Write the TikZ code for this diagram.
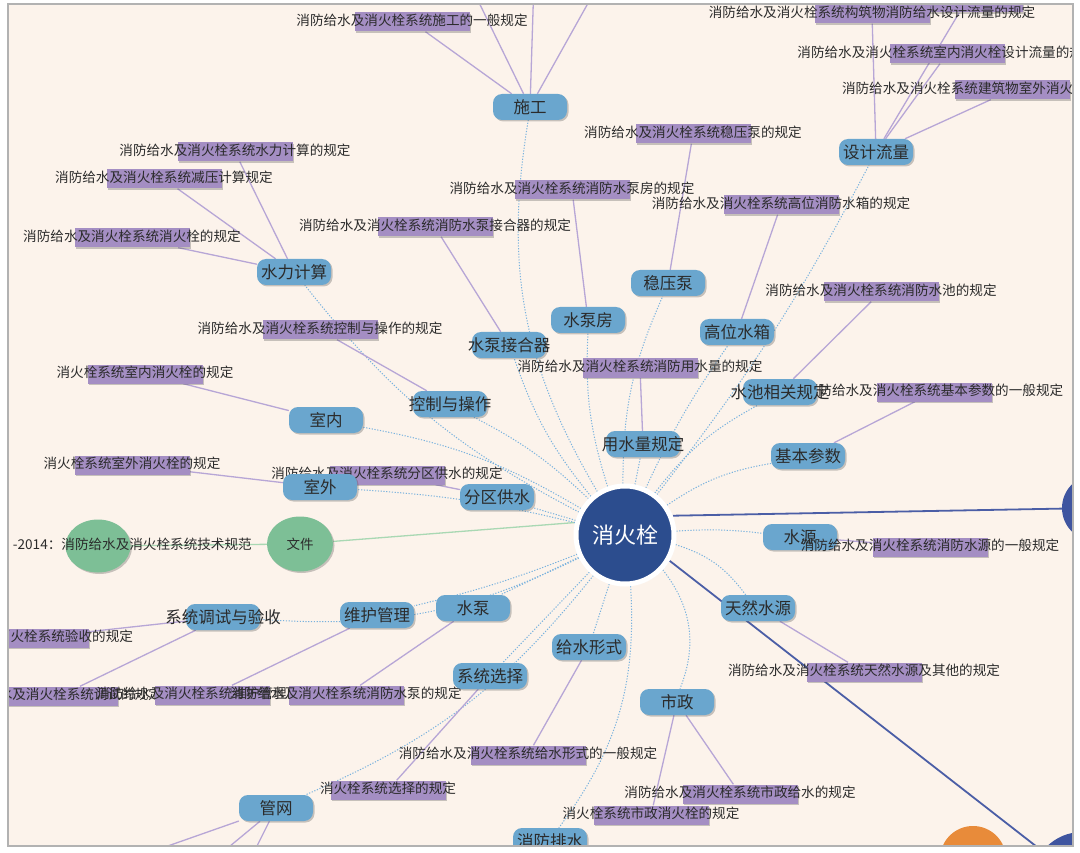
\documentclass[tikz,border=0pt]{standalone}
\usepackage{fontspec}
\newfontfamily\cjk{Noto Sans CJK SC}
\usetikzlibrary{shadows,shapes.geometric}
\pgfdeclarelayer{back}
\pgfdeclarelayer{conn}
\pgfsetlayers{back,conn,main}
\definecolor{bgc}{HTML}{FCF3EB}
\definecolor{nb}{HTML}{6AA6CE}
\definecolor{lp}{HTML}{A48EC3}
\definecolor{plc}{HTML}{B7A6D6}
\definecolor{dlc}{HTML}{79B2DE}
\definecolor{hubc}{HTML}{2C4D8E}
\definecolor{grn}{HTML}{7DBF96}
\definecolor{glc}{HTML}{A9D8B3}
\definecolor{dkc}{HTML}{4B5EA6}
\definecolor{rcc}{HTML}{3F55A0}
\definecolor{orc}{HTML}{E88B3A}
\definecolor{tx}{HTML}{2B2B2B}
\tikzset{
  shd/.style={drop shadow={shadow xshift=1.5pt, shadow yshift=-1.5pt, opacity=0.3, fill=black!70}},
  bn/.style={rounded corners=9pt, fill=nb, minimum width=74pt, minimum height=26pt, inner sep=0pt,
    font=\cjk\fontsize{16.5}{17}\selectfont, text=tx, shd},
  lb/.style={fill=lp, minimum width=115pt, minimum height=19pt, inner sep=0pt, shd},
  lt/.style={font=\cjk\fontsize{13.6}{14}\selectfont, text=tx, inner sep=0pt, yshift=2pt},
  hubs/.style={circle, fill=hubc, draw=white, line width=5pt, minimum size=98pt, inner sep=0pt,
    font=\cjk\fontsize{22}{22}\selectfont, text=white, shd},
  ell/.style={ellipse, fill=grn, inner sep=0pt, font=\cjk\fontsize{13.5}{14}\selectfont, text=tx, shd},
  dl/.style={dlc, line width=1pt, dash pattern=on 1.2pt off 1.6pt},
  pl/.style={plc, line width=1.3pt},
  gl/.style={glc, line width=1.3pt},
  dk/.style={dkc, line width=1.8pt},
}
\newcommand\lab[4]{\node[lb,label={[lt]center:{#4}}] (#1) at (#2,{#3+2}) {};}
\newcommand\bnd[4]{\node[bn] (#1) at (#2,#3) {\makebox[0pt]{#4}};}
\begin{document}
\begin{tikzpicture}[x=1pt,y=-1pt]
\useasboundingbox (0,0) rectangle (1080,853);
\begin{pgfonlayer}{back}
\fill[white] (0,0) rectangle (1080,853);
\fill[bgc] (8,4) rectangle (1073,846);
\end{pgfonlayer}

\begin{scope}
\clip (8,4) rectangle (1073,846);
% off-frame ends
\coordinate (c1) at (468,-20);
\coordinate (c2) at (534,-20);
\coordinate (c3) at (601,-20);
\coordinate (g1) at (71,880);
\coordinate (g2) at (189,880);
\coordinate (g3) at (240,880);
% labels
\node[lb] (L2b) at (965,3) {};
\lab{L1}{412}{20}{消防给水及消火栓系统施工的一般规定}
\lab{L2}{872}{12}{消防给水及消火栓系统构筑物消防给水设计流量的规定}
\lab{L3}{947}{52}{消防给水及消火栓系统室内消火栓设计流量的规定}
\lab{L4}{1012}{88}{消防给水及消火栓系统建筑物室外消火栓设计流量的规定}
\lab{L5}{235}{150}{消防给水及消火栓系统水力计算的规定}
\lab{L6}{164}{177}{消防给水及消火栓系统减压计算规定}
\lab{L7}{132}{236}{消防给水及消火栓系统消火栓的规定}
\lab{L8}{693}{132}{消防给水及消火栓系统稳压泵的规定}
\lab{L9}{572}{188}{消防给水及消火栓系统消防水泵房的规定}
\lab{L10}{781}{203}{消防给水及消火栓系统高位消防水箱的规定}
\lab{L11}{435}{225}{消防给水及消火栓系统消防水泵接合器的规定}
\lab{L12}{881}{290}{消防给水及消火栓系统消防水池的规定}
\lab{L13}{320}{328}{消防给水及消火栓系统控制与操作的规定}
\lab{L14}{640}{366}{消防给水及消火栓系统消防用水量的规定}
\lab{L15}{145}{372}{消火栓系统室内消火栓的规定}
\lab{L16}{934}{390}{消防给水及消火栓系统基本参数的一般规定}
\lab{L17}{132}{463}{消火栓系统室外消火栓的规定}
\lab{L18}{387}{473}{消防给水及消火栓系统分区供水的规定}
\lab{L20}{864}{670}{消防给水及消火栓系统天然水源及其他的规定}
\lab{L21}{31}{636}{消防给水及消火栓系统验收的规定}
\lab{L22}{60}{694}{消防给水及消火栓系统调试的规定}
\lab{L23}{212}{693}{消防给水及消火栓系统维护管理的规定}
\lab{L24}{346}{693}{消防给水及消火栓系统消防水泵的规定}
\lab{L25}{528}{753}{消防给水及消火栓系统给水形式的一般规定}
\lab{L26}{388}{788}{消火栓系统选择的规定}
\lab{L27}{740}{792}{消防给水及消火栓系统市政给水的规定}
\lab{L28}{651}{813}{消火栓系统市政消火栓的规定}
% circles
\node[ell, minimum width=65pt, minimum height=53pt] (gc) at (98,546) {};
\node[lt, yshift=-2pt, anchor=east] (gbt) at (252,544) {-2014：消防给水及消火栓系统技术规范};
\node[ell, minimum width=66pt, minimum height=55pt] (wj) at (300,544) {文件};
\node[circle, fill=rcc, minimum size=66pt] (rc) at (1095,508) {};
\node[circle, fill=orc, minimum size=66pt] (oc) at (973,859) {};
\node[circle, fill=rcc, minimum size=100pt] (bc) at (1082,882) {};
% blue nodes
\bnd{sg}{530}{107}{施工}
\bnd{sj}{876}{152}{设计流量}
\bnd{sl}{294}{272}{水力计算}
\bnd{wy}{668}{283}{稳压泵}
\bnd{bf}{588}{320}{水泵房}
\bnd{gw}{737}{332}{高位水箱}
\bnd{jh}{509}{345}{水泵接合器}
\bnd{kz}{450}{404}{控制与操作}
\bnd{sn}{326}{420}{室内}
\bnd{ys}{643}{444}{用水量规定}
\bnd{sc}{780}{392}{水池相关规定}
\bnd{jb}{808}{456}{基本参数}
\bnd{sw}{320}{487}{室外}
\bnd{fq}{497}{497}{分区供水}
\bnd{yu}{800}{537}{水源}
\bnd{tr}{758}{608}{天然水源}
\bnd{ts}{223}{617}{系统调试与验收}
\bnd{wh}{377}{615}{维护管理}
\bnd{sb}{473}{608}{水泵}
\bnd{gs}{589}{647}{给水形式}
\bnd{xz}{490}{676}{系统选择}
\bnd{sz}{677}{702}{市政}
\bnd{gn}{276}{808}{管网}
\bnd{ps}{550}{841}{消防排水}
\lab{L19}{930}{545}{消防给水及消火栓系统消防水源的一般规定}
\node[hubs] (hub) at (625,535) {消火栓};
\end{scope}

\begin{pgfonlayer}{conn}
\begin{scope}
\clip (8,4) rectangle (1073,846);
% main lines
\draw[dk] (hub.22) -- (rc);
\draw[dk] (hub.-30) -- (bc);
\draw[gl] (hub.166) -- (wj);
\draw[gl] (wj) -- (gc);
% dotted hub connectors
\draw[dl] (hub) to[bend left=20] (sg);
\draw[dl] (hub) to[bend right=5] (sj);
\draw[dl] (hub) to[bend left=12] (sl);
\draw[dl] (hub) to[bend left=12] (wy);
\draw[dl] (hub) to[bend left=10] (bf);
\draw[dl] (hub) to[bend left=5] (gw);
\draw[dl] (hub) to[bend left=10] (jh);
\draw[dl] (hub) to[bend right=8] (kz);
\draw[dl] (hub) to[bend right=10] (sn);
\draw[dl] (hub) to (ys);
\draw[dl] (hub) to[bend left=12] (sc);
\draw[dl] (hub) to[bend left=12] (jb);
\draw[dl] (hub) to[bend right=5] (sw);
\draw[dl] (hub) to (fq);
\draw[dl] (hub) to[bend left=5] (yu);
\draw[dl] (hub) to[bend left=18] (tr);
\draw[dl] (hub) to (sb);
\draw[dl] (hub) to[bend left=4] (wh);
\draw[dl] (hub) to[bend left=15] (ts);
\draw[dl] (hub) to (gs);
\draw[dl] (hub) to (xz);
\draw[dl] (hub) to[bend left=14] (gn);
\draw[dl] (hub) to[bend left=20] (ps);
\draw[dl] (hub) to[bend left=30] (sz);
% purple connectors
\draw[pl] (sg) -- (L1);
\draw[pl] (sg) -- (c1);
\draw[pl] (sg) -- (c2);
\draw[pl] (sg) -- (c3);
\draw[pl] (sj) -- (L2);
\draw[pl] (sj) -- (L2b);
\draw[pl] (sj) -- (L3);
\draw[pl] (sj) -- (L4);
\draw[pl] (sl) -- (L5);
\draw[pl] (sl) -- (L6);
\draw[pl] (sl) -- (L7);
\draw[pl] (wy) -- (L8);
\draw[pl] (bf) -- (L9);
\draw[pl] (gw) -- (L10);
\draw[pl] (jh) -- (L11);
\draw[pl] (sc) -- (L12);
\draw[pl] (kz) -- (L13);
\draw[pl] (ys) -- (L14);
\draw[pl] (sn) -- (L15);
\draw[pl] (jb) -- (L16);
\draw[pl] (sw) -- (L17);
\draw[pl] (fq) -- (L18);
\draw[pl] (yu) -- (L19);
\draw[pl] (tr) -- (L20);
\draw[pl] (ts) -- (L21);
\draw[pl] (ts) -- (L22);
\draw[pl] (wh) -- (L23);
\draw[pl] (sb) -- (L24);
\draw[pl] (gs) -- (L25);
\draw[pl] (xz) -- (L26);
\draw[pl] (sz) -- (L27);
\draw[pl] (sz) -- (L28);
\draw[pl] (gn) -- (g1);
\draw[pl] (gn) -- (g2);
\draw[pl] (gn) -- (g3);
\end{scope}
\end{pgfonlayer}

\draw[black!30, line width=1.5pt] (8,4) rectangle (1073,846);
\end{tikzpicture}
\end{document}
